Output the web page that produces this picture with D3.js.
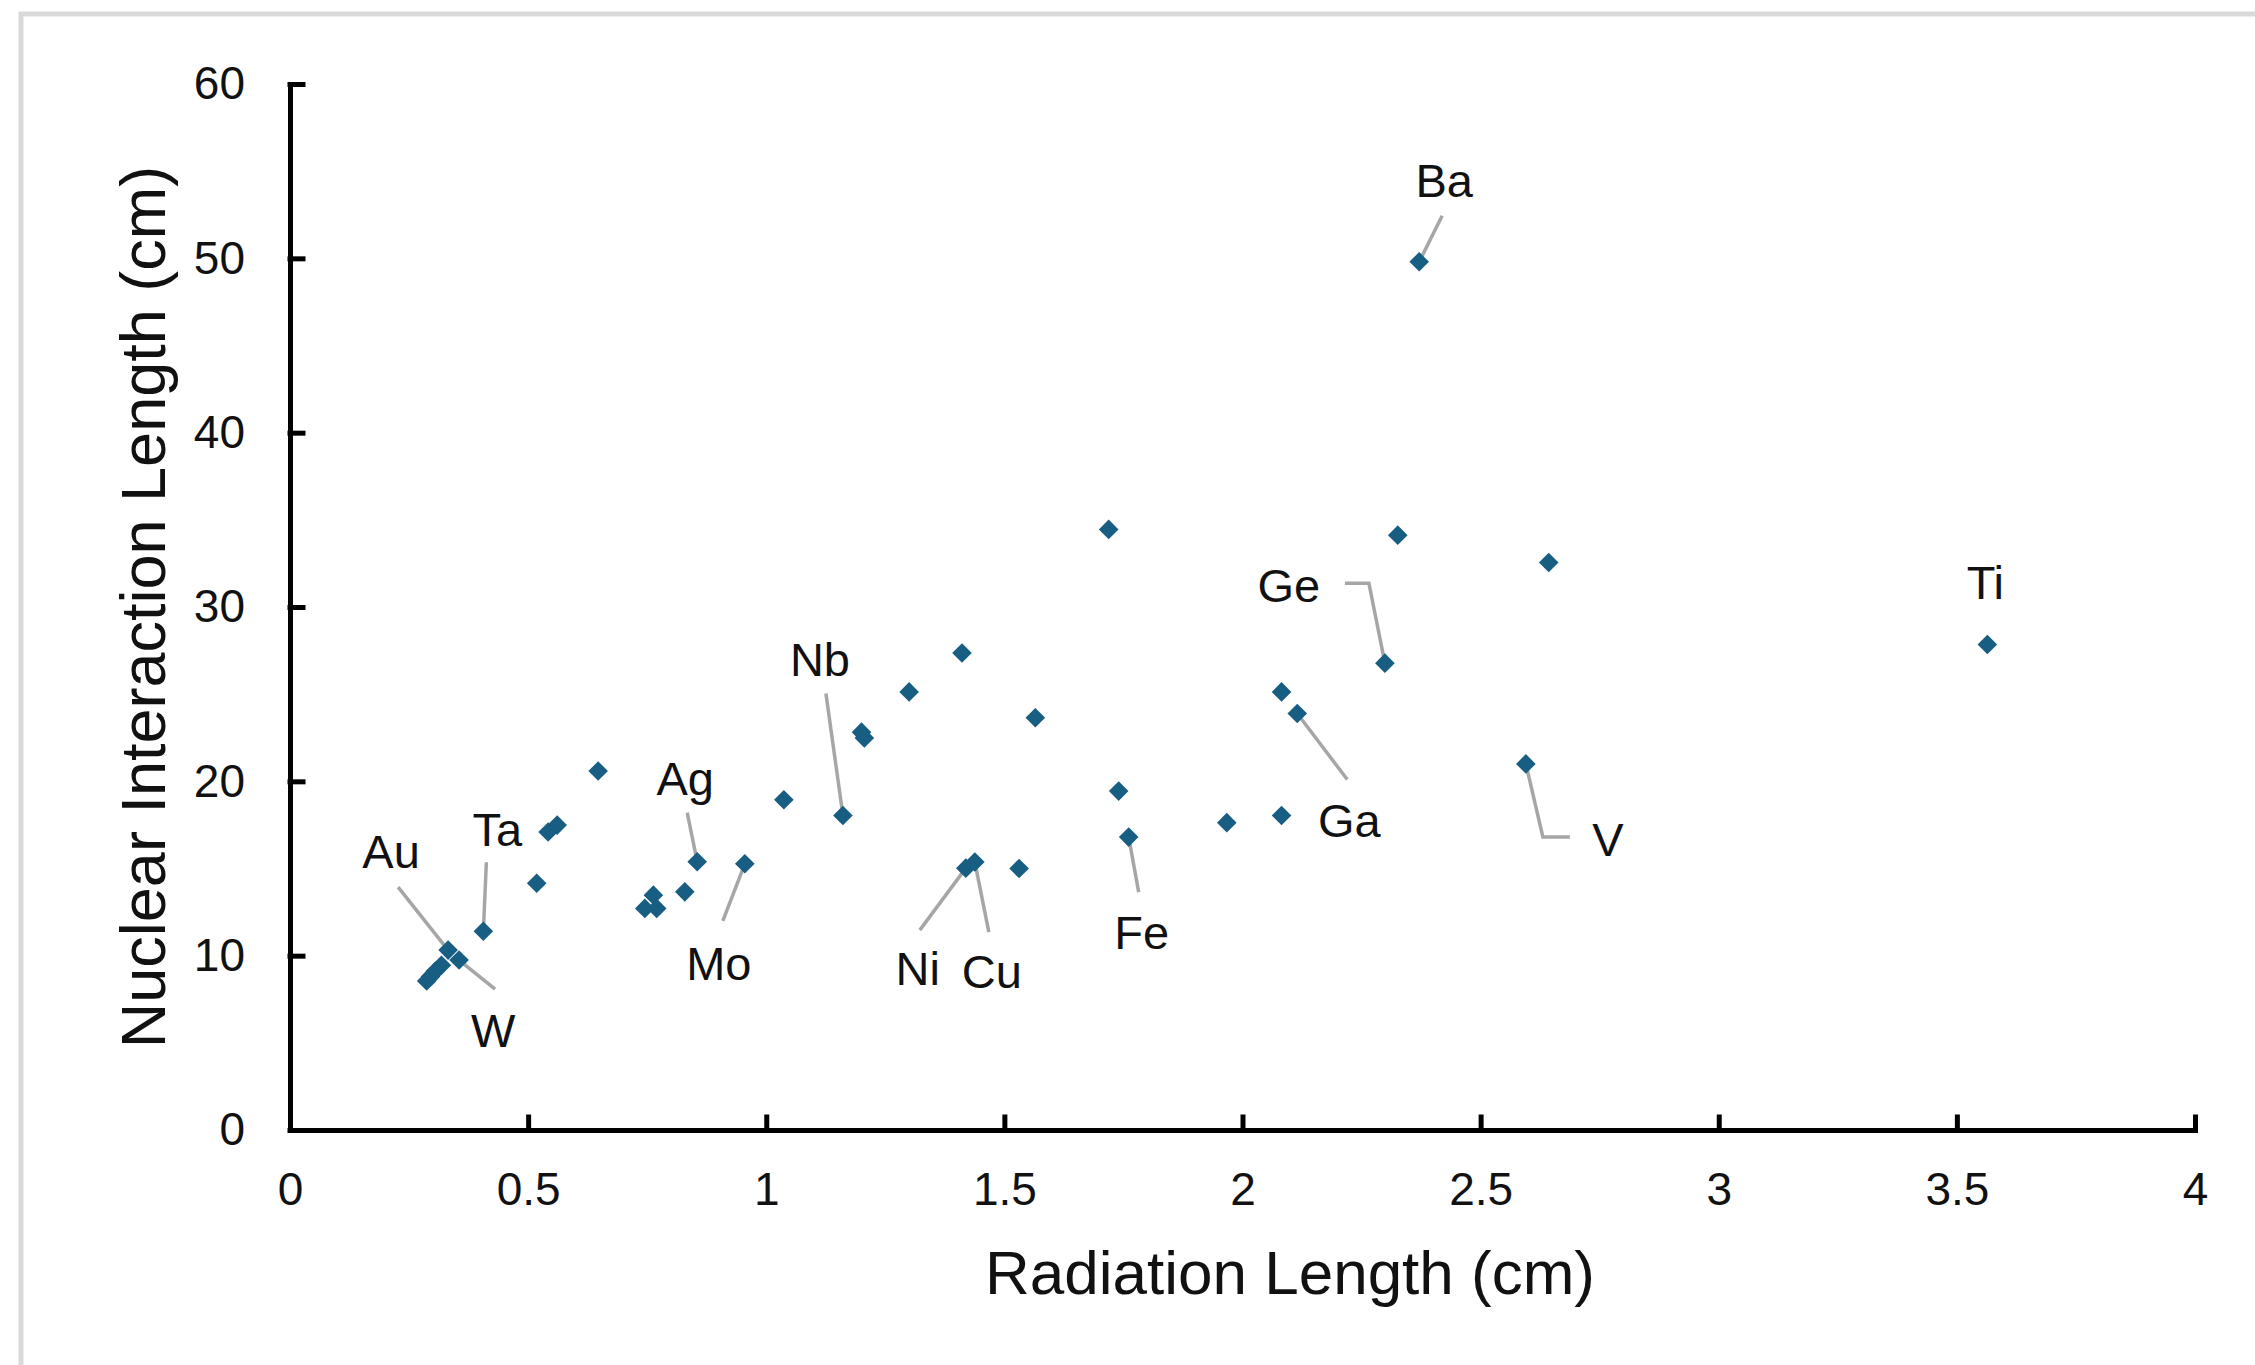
<!DOCTYPE html>
<html>
<head>
<meta charset="utf-8">
<script src="https://cdn.jsdelivr.net/npm/d3@7"></script>
<style>
  body { margin: 0; background: #fff; }
  text { font-family: "Liberation Sans", Arial, sans-serif; }
</style>
</head>
<body>
<div id="chart"></div>
<script>
// Radiation length vs nuclear interaction length
var radLength = [2.371, 1.719, 2.326, 2.643, 3.564, 1.411, 2.299, 1.300, 2.082, 2.115,
                 1.565, 1.200, 1.206, 0.647, 2.595, 1.740, 1.037, 1.161, 1.967, 2.082,
                 0.561, 0.542, 1.761, 0.855, 0.955, 1.419, 1.438, 1.531, 0.518, 0.829,
                 0.763, 0.745, 0.770, 0.406, 0.332, 0.355, 0.318, 0.305, 0.295, 0.287];
var nucLength = [49.8, 34.45, 34.12, 32.55, 27.85, 27.36, 26.78, 25.13, 25.13, 23.89,
                 23.65, 22.82, 22.49, 20.59, 21.0, 19.44, 18.94, 18.04, 17.63, 18.04,
                 17.49, 17.09, 16.8, 15.39, 15.27, 15.02, 15.37, 15.0, 14.15, 13.66,
                 13.47, 12.71, 12.71, 11.4, 10.32, 9.75, 9.45, 9.1, 8.8, 8.55];
var names = ['Ba', '', '', '', 'Ti', '', 'Ge', '', '', 'Ga',
             '', '', '', '', 'V', '', '', 'Nb', '', '',
             '', '', 'Fe', 'Ag', 'Mo', 'Ni', 'Cu', '', '', '',
             '', '', '', 'Ta', 'Au', 'W', '', '', '', ''];
var xTicks = [0, 0.5, 1, 1.5, 2, 2.5, 3, 3.5, 4];
var yTicks = [0, 10, 20, 30, 40, 50, 60];

// where each label sits relative to its point (pixels): text centre, leader path
var labelPos = {
  Ba: {t: [25, -82], path: [[23, -46]]},
  Ge: {t: [-96, -78], path: [[-40, -80], [-16, -80]]},
  Ti: {t: [-2, -62], path: null},
  Nb: {t: [-23, -156], path: [[-17, -122]]},
  Ag: {t: [-12, -84], path: [[-10, -49]]},
  Ta: {t: [14, -102], path: [[3, -69]]},
  Au: {t: [-57, -99], path: [[-50, -63]]},
  W:  {t: [34, 70], path: [[36, 29]]},
  Mo: {t: [-26, 99], path: [[-22, 57]]},
  Ni: {t: [-48, 100], path: [[-46, 62]]},
  Cu: {t: [17, 109], path: [[14, 70]]},
  Fe: {t: [13, 95], path: [[10, 55]]},
  Ga: {t: [52, 107], path: [[50, 66]]},
  V:  {t: [82, 75], path: [[44, 73], [17, 73]]}
};

var w = 2255;
var h = 1365;
var margin = ({top: 84, right: 60, bottom: 235, left: 290});

var data = radLength.map((d, i) => ({x: d, y: nucLength[i], name: names[i]}));

var x = d3.scaleLinear()
     .domain([0, 4])
     .range([margin.left, w - margin.right]);

var y = d3.scaleLinear()
     .domain([0, 60])
     .range([h - margin.bottom, margin.top]);

var svg = d3.select('#chart')
     .append('svg')
     .attr('width', w)
     .attr('height', h);

// outer chart border, runs off the right and bottom of the picture
svg.append('rect')
     .attr('x', 21)
     .attr('y', 14)
     .attr('width', w + 50)
     .attr('height', h + 50)
     .attr('fill', '#fff')
     .attr('stroke', '#d9d9d9')
     .attr('stroke-width', 5);

xAxis = g => g
     .attr('transform', 'translate(0,' + y(0) + ')')
     .call(d3.axisBottom(x).tickValues(xTicks).tickFormat(d3.format('')).tickSizeInner(-13).tickSizeOuter(0).tickPadding(42))
     .call(g => g.selectAll('text').attr('font-size', 46).attr('fill', '#111').attr('font-family', null));

yAxis = g => g
     .attr('transform', 'translate(' + x(0) + ',0)')
     .call(d3.axisLeft(y).tickValues(yTicks).tickSizeInner(-13).tickSizeOuter(0).tickPadding(45))
     .call(g => g.selectAll('text').attr('font-size', 46).attr('fill', '#111').attr('font-family', null));

svg.append('g').call(xAxis);
svg.append('g').call(yAxis);

svg.selectAll('.domain, .tick line')
     .attr('stroke', '#000')
     .attr('stroke-width', 5)
     .attr('stroke-linecap', 'square');

// axis titles
svg.append('text')
     .attr('x', 1290)
     .attr('y', 1294)
     .attr('text-anchor', 'middle')
     .attr('font-size', 62)
     .attr('fill', '#111')
     .text('Radiation Length (cm)');

svg.append('text')
     .attr('transform', 'translate(165,' + ((y(0) + y(60)) / 2) + ') rotate(-90)')
     .attr('text-anchor', 'middle')
     .attr('font-size', 63)
     .attr('fill', '#111')
     .text('Nuclear Interaction Length (cm)');

// leader lines under the markers
var labelled = data.filter(d => d.name && labelPos[d.name]);

svg.append('g')
     .selectAll('path')
     .data(labelled.filter(d => labelPos[d.name].path))
     .enter()
     .append('path')
     .attr('d', d => {
        var px = x(d.x), py = y(d.y);
        var pts = labelPos[d.name].path.map(p => [px + p[0], py + p[1]]);
        pts.push([px, py]);
        return d3.line()(pts);
     })
     .attr('fill', 'none')
     .attr('stroke', '#a6a6a6')
     .attr('stroke-width', 3.5);

var diamond = d3.symbol().type(d3.symbolDiamond2).size(245);

svg.append('g')
     .selectAll('path')
     .data(data)
     .enter()
     .append('path')
     .attr('d', diamond)
     .attr('transform', d => 'translate(' + x(d.x) + ',' + y(d.y) + ')')
     .attr('fill', '#175e82');

svg.append('g')
     .selectAll('text')
     .data(labelled)
     .enter()
     .append('text')
     .attr('x', d => x(d.x) + labelPos[d.name].t[0])
     .attr('y', d => y(d.y) + labelPos[d.name].t[1])
     .attr('dy', '0.36em')
     .attr('text-anchor', 'middle')
     .attr('font-size', 47)
     .attr('fill', '#111')
     .text(d => d.name);
</script>
</body>
</html>
